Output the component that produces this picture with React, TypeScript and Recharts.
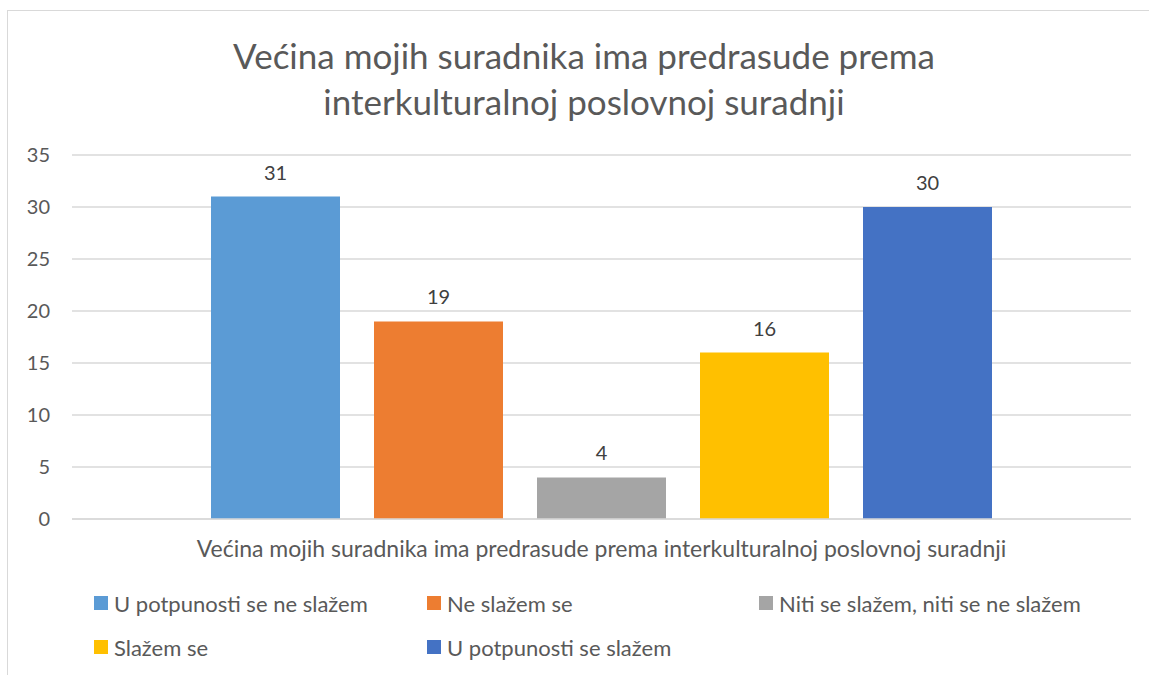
import React from "react";
import {
  BarChart,
  Bar,
  XAxis,
  YAxis,
  CartesianGrid,
  LabelList,
} from "recharts";

const TITLE_LINES = [
  "Većina mojih suradnika ima predrasude prema",
  "interkulturalnoj poslovnoj suradnji",
];
const CATEGORY = "Većina mojih suradnika ima predrasude prema interkulturalnoj poslovnoj suradnji";
const SERIES_NAMES = [
  "U potpunosti se ne slažem",
  "Ne slažem se",
  "Niti se slažem, niti se ne slažem",
  "Slažem se",
  "U potpunosti se slažem",
];
const SERIES_VALUES = [31, 19, 4, 16, 30];
const SERIES_COLORS = ["#5B9BD5", "#ED7D31", "#A5A5A5", "#FFC000", "#4472C4"];
const Y_TICKS = [0, 5, 10, 15, 20, 25, 30, 35];

const FONT = "Lato, 'Open Sans', sans-serif";
const TEXT = "#595959";

const row: Record<string, string | number> = { name: CATEGORY };
SERIES_NAMES.forEach((_, i) => {
  row[`s${i}`] = SERIES_VALUES[i];
});
const data = [row];

export default function App() {
  return (
    <div
      style={{
        position: "absolute",
        left: 0,
        top: 0,
        width: 1149,
        height: 675,
        overflow: "hidden",
        background: "#fff",
      }}
    >
      <div
        style={{
          position: "absolute",
          left: 7,
          top: 10,
          width: 1300,
          height: 800,
          border: "1.5px solid #D9D9D9",
        }}
      />
      <div
        style={{
          position: "absolute",
          left: 0,
          top: 32,
          width: 1168,
          textAlign: "center",
          fontFamily: FONT,
          fontSize: 35,
          lineHeight: "46px",
          color: TEXT,
        }}
      >
        {TITLE_LINES.map((t) => (
          <div key={t}>{t}</div>
        ))}
      </div>
      <div style={{ position: "absolute", left: 0, top: 0 }}>
        <BarChart
          width={1149}
          height={675}
          data={data}
          margin={{ top: 155, right: 18, left: 0, bottom: 100 }}
          barGap={34}
          barSize={129}
        >
          <CartesianGrid vertical={false} stroke="#D9D9D9" strokeWidth={1.5} />
          <XAxis
            dataKey="name"
            tickLine={false}
            tickSize={0}
            tickMargin={22}
            axisLine={{ stroke: "#D9D9D9", strokeWidth: 1.5 }}
            tick={{ fontSize: 23, fill: TEXT, fontFamily: FONT }}
            height={56}
          />
          <YAxis
            width={72}
            domain={[0, 35]}
            ticks={Y_TICKS}
            interval={0}
            tickLine={false}
            axisLine={false}
            tickMargin={16}
            tick={{ fontSize: 20, fill: TEXT, fontFamily: FONT }}
          />
          {SERIES_NAMES.map((n, i) => (
            <Bar
              key={n}
              dataKey={`s${i}`}
              name={n}
              fill={SERIES_COLORS[i]}
              isAnimationActive={false}
            >
              <LabelList
                dataKey={`s${i}`}
                position="top"
                offset={17}
                fill="#404040"
                fontSize={20}
                fontFamily={FONT}
              />
            </Bar>
          ))}
        </BarChart>
      </div>
      <div
        style={{
          position: "absolute",
          left: 94,
          top: 591,
          display: "grid",
          gridTemplateColumns: "333px 332px 333px",
          rowGap: 20,
          fontFamily: FONT,
          fontSize: 22,
          color: TEXT,
        }}
      >
        {SERIES_NAMES.map((n, i) => (
          <div key={n} style={{ display: "flex", alignItems: "center", height: 24 }}>
            <span
              style={{
                width: 14,
                height: 14,
                background: SERIES_COLORS[i],
                display: "inline-block",
                marginRight: 6,
              }}
            />
            <span>{n}</span>
          </div>
        ))}
      </div>
    </div>
  );
}
